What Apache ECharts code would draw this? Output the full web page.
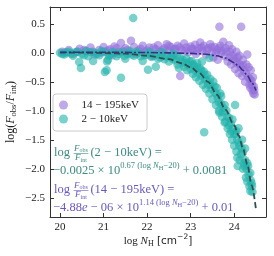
<!DOCTYPE html>
<html><head><meta charset="utf-8">
<script src="https://cdn.jsdelivr.net/npm/echarts@6/dist/echarts.min.js"></script>
<style>html,body{margin:0;padding:0;background:#fff}#c{width:274px;height:256px}</style>
</head><body><div id="c"></div>
<script>
// ---- data ----
const seriesNames = ['14 − 195keV', '2 − 10keV'];
const xTicks = [20, 21, 22, 23, 24];
const yTicks = [-2.5, -2.0, -1.5, -1.0, -0.5, 0.0, 0.5];

const hardPoints = [
[20.05,0.02],[20.2,0.05],[20.3,-0.02],[20.45,0.07],[20.6,0.03],[20.7,0.09],[20.8,-0.03],[20.9,0.05],[21.0,0.1],[21.05,0.02],
[21.15,0.06],[21.2,-0.04],[21.3,0.08],[21.4,0.17],[21.45,0.03],[21.55,0.05],[21.63,0.21],[21.7,0.1],[21.75,-0.02],[21.85,0.07],
[21.9,0.12],[22.0,0.04],[22.05,0.09],[22.1,-0.05],[22.2,0.06],[22.25,0.13],[22.3,0.02],[22.4,0.08],[22.45,0.15],[22.5,0.04],
[22.55,0.1],[22.6,-0.03],[22.65,0.07],[22.7,0.12],[22.76,-0.4],[22.8,0.05],[22.85,0.16],[22.9,0.09],[22.95,0.01],[23.0,0.11],
[23.05,0.06],[23.1,0.14],[23.12,-0.02],[23.18,0.08],[23.22,0.18],[23.27,0.04],[23.3,0.12],[23.35,-0.03],[23.4,0.08],[23.45,0.15],
[23.5,0.02],[23.52,-0.08],[23.55,0.1],[23.6,0.05],[23.62,-0.12],[23.66,0.45],[23.68,0.12],[23.7,0.0],[23.75,0.19],[23.78,-0.06],
[23.8,0.08],[23.85,-0.15],[23.88,0.13],[23.9,0.02],[23.93,-0.2],[23.95,0.06],[24.0,-0.1],[24.02,-0.28],[24.05,0.02],[24.07,-0.18],
[24.1,-0.35],[24.12,-0.05],[24.15,-0.25],[24.16,0.45],[24.18,-0.4],[24.2,-0.12],[24.22,-0.3],[24.25,-0.5],[24.28,-0.2],[24.3,-0.03],
[24.32,-0.42],[24.35,-0.55],[24.37,-0.6],[24.38,-0.3],[24.4,-0.48],[24.42,-0.65],[24.44,-0.7],[24.45,-0.58],[24.47,-0.72],
[20.1,0.0],[20.4,0.02],[20.55,0.05],[20.75,0.02],[20.95,0.0],[21.1,0.04],[21.25,0.11],[21.35,0.02],[21.5,0.08],[21.6,0.0],
[21.8,0.04],[21.95,0.02],[22.15,0.09],[22.35,0.05],[22.5,0.12],[22.62,0.06],[22.75,0.09],[22.88,0.03],[23.02,0.07],[23.15,0.03],
[23.25,0.09],[23.38,0.05],[23.48,0.1],[23.58,0.0],[23.65,0.08],[23.72,0.04],[23.82,0.02],[23.9,-0.08],[23.97,-0.05],[24.03,-0.15],
[24.08,-0.08],[24.13,-0.2],[24.2,-0.22],[24.27,-0.35],[24.33,-0.25],[24.36,-0.45],[24.41,-0.55],[24.43,-0.42],[24.46,-0.64]
];

const softPoints = [
[20.0,0.0],[20.1,-0.03],[20.2,0.02],[20.3,-0.05],[20.35,0.01],[20.44,-0.16],[20.48,-0.26],[20.5,-0.02],[20.6,0.03],[20.65,-0.06],
[20.76,-0.14],[20.8,0.0],[20.9,-0.04],[21.0,0.02],[21.03,-0.33],[21.07,-0.3],[21.08,-0.15],[21.1,-0.12],[21.15,-0.03],[21.2,0.01],
[21.3,-0.06],[21.4,-0.43],[21.42,0.02],[21.5,-0.1],[21.55,-0.02],[21.6,0.03],[21.68,0.6],[21.7,-0.05],[21.8,0.0],[21.9,-0.14],
[21.95,-0.04],[22.02,-0.29],[22.05,0.02],[22.1,-0.07],[22.2,-0.24],[22.22,-0.02],[22.3,-0.08],[22.35,0.01],[22.4,-0.11],[22.45,-0.04],
[22.5,-0.15],[22.55,-0.07],[22.6,-0.01],[22.65,-0.13],[22.7,-0.2],[22.73,-0.26],[22.75,-0.08],[22.8,-0.16],[22.85,-0.24],[22.9,-0.1],
[22.92,-0.3],[22.95,-0.2],[23.0,-0.28],[23.02,-0.14],[23.05,-0.36],[23.08,-0.22],[23.1,-0.3],[23.12,-0.42],[23.15,-0.18],[23.18,-0.35],
[23.2,-0.48],[23.22,-0.27],[23.25,-0.4],[23.26,-0.15],[23.28,-0.55],[23.3,-0.32],[23.31,-1.37],[23.33,-0.46],[23.35,-0.62],[23.38,-0.38],
[23.4,-0.55],[23.43,-0.09],[23.43,-0.7],[23.45,-0.45],[23.48,-0.62],[23.5,-0.8],[23.52,-0.5],[23.55,-0.68],[23.58,-0.9],[23.6,-0.6],
[23.62,-0.78],[23.65,-1.0],[23.66,-1.03],[23.68,-0.7],[23.7,-0.88],[23.72,-1.1],[23.75,-0.95],[23.78,-1.2],[23.8,-1.19],[23.82,-1.0],
[23.85,-1.3],[23.88,-1.12],[23.9,-1.4],[23.92,-1.22],[23.95,-1.5],[23.98,-1.3],[24.0,-1.6],[24.02,-0.9],[24.03,-1.4],[24.05,-1.7],
[24.07,-1.5],[24.07,-1.81],[24.1,-1.3],[24.12,-1.6],[24.15,-1.75],[24.18,-1.5],[24.2,-1.72],[24.22,-1.9],[24.25,-1.65],[24.28,-2.0],
[24.3,-1.9],[24.3,-2.22],[24.33,-2.1],[24.37,-2.07],[24.37,-2.38],[24.4,-2.25],[24.41,-2.3],
[20.05,-0.02],[20.15,0.01],[20.25,-0.01],[20.4,0.02],[20.55,-0.04],[20.7,0.01],[20.85,-0.02],[20.95,0.03],[21.12,-0.05],[21.25,0.0],
[21.35,-0.02],[21.48,-0.05],[21.65,-0.03],[21.75,0.02],[21.85,-0.06],[22.0,-0.03],[22.15,-0.05],[22.25,-0.1],[22.42,-0.06],[22.58,-0.1],
[22.68,-0.05],[22.82,-0.12],[22.88,-0.18],[22.98,-0.15],[23.05,-0.2],[23.15,-0.25],[23.24,-0.3],[23.32,-0.38],[23.38,-0.48],[23.46,-0.55],
[23.55,-0.58],[23.6,-0.72],[23.65,-0.85],[23.7,-0.75],[23.74,-1.02],[23.78,-0.9],[23.84,-1.1],[23.88,-1.25],[23.93,-1.35],[23.96,-1.15],
[24.0,-1.4],[24.05,-1.35],[24.1,-1.55],[24.13,-1.85],[24.17,-1.65],[24.2,-2.0],[24.25,-1.85],[24.27,-2.15],[24.32,-1.95],[24.35,-2.3],
[24.38,-2.2],[24.42,-2.4],[24.24,-1.95],[24.08,-1.95]
];

const softFit = [
[20.0,0.005],[20.5,0.002],[21.0,-0.004],[21.5,-0.015],[22.0,-0.05],[22.5,-0.11],[22.8,-0.18],[23.0,-0.25],[23.2,-0.35],
[23.4,-0.5],[23.6,-0.72],[23.8,-0.98],[24.0,-1.25],[24.1,-1.42],[24.2,-1.64],[24.3,-1.92],[24.4,-2.28],[24.5,-2.7]
];
const hardFit = [
[20.0,0.01],[21.0,0.01],[22.0,0.005],[22.5,0.0],[23.0,-0.01],[23.3,-0.02],[23.6,-0.05],[23.8,-0.09],[24.0,-0.17],
[24.1,-0.23],[24.2,-0.3],[24.3,-0.39],[24.4,-0.51],[24.5,-0.65]
];

// ---- styling ----
const SERIF = 'Liberation Serif';
const SANS = 'DejaVu Sans';
const AX = '#333';
const TEAL_TXT = '#3d8b82';
const PURP_TXT = '#6b58c0';

const ctx = document.createElement('canvas').getContext('2d');
function mw(t, s, it, fam) { ctx.font = (it ? 'italic ' : '') + s + 'px "' + (fam || SERIF) + '"'; return ctx.measureText(t).width; }
function txt(t, x, y, s, it, fam, color) {
  return { type: 'text', silent: true, z: 50, style: { text: t, x: x, y: y, fontSize: s, fontStyle: it ? 'italic' : 'normal', fontFamily: fam || SERIF, fill: color, verticalAlign: 'middle', align: 'left' } };
}
function seq(x0, y0, pieces, color) {
  let x = x0; const els = [];
  for (const p of pieces) {
    if (p.frac) {
      const wn = p.frac[0].reduce((a, q) => a + mw(q.t, q.s, q.i, q.f), 0);
      const wd = p.frac[1].reduce((a, q) => a + mw(q.t, q.s, q.i, q.f), 0);
      const W = Math.max(wn, wd) + 2;
      let xn = x + (W - wn) / 2;
      for (const q of p.frac[0]) { els.push(txt(q.t, xn, y0 - 4.5 + (q.dy || 0), q.s, q.i, q.f, color)); xn += mw(q.t, q.s, q.i, q.f); }
      let xd = x + (W - wd) / 2;
      for (const q of p.frac[1]) { els.push(txt(q.t, xd, y0 + 5 + (q.dy || 0), q.s, q.i, q.f, color)); xd += mw(q.t, q.s, q.i, q.f); }
      els.push({ type: 'line', silent: true, z: 50, shape: { x1: x + 0.5, y1: y0 + 0.5, x2: x + W - 0.5, y2: y0 + 0.5 }, style: { stroke: color, lineWidth: 0.6 } });
      x += W + 1.5;
    } else {
      els.push(txt(p.t, x, y0 + (p.dy || 0), p.s, p.i, p.f, color));
      x += mw(p.t, p.s, p.i, p.f);
    }
  }
  return { els: els, width: x - x0 };
}
const fracFF = { frac: [[{ t: 'F', s: 9, i: true }, { t: 'obs', s: 6, dy: 2 }], [{ t: 'F', s: 9, i: true }, { t: 'int', s: 6, dy: 2 }]] };
const M = 12.5, S = 8.5, SS = 6.5;

const gEls = [];
gEls.push(...seq(54, 153, [{ t: 'log ', s: M }, fracFF, { t: '(2 − 10keV) =', s: M }], TEAL_TXT).els);
gEls.push(...seq(53, 171, [{ t: '−0.0025 × 10', s: M }, { t: '0.67 (log ', s: S, dy: -5.5 }, { t: 'N', s: S, i: true, dy: -5.5 }, { t: 'H', s: SS, dy: -3 }, { t: '−20)', s: S, dy: -5.5 }, { t: ' + 0.0081', s: M }], TEAL_TXT).els);
gEls.push(...seq(54, 190, [{ t: 'log ', s: M }, fracFF, { t: '(14 − 195keV) =', s: M }], PURP_TXT).els);
gEls.push(...seq(53, 208, [{ t: '−4.88', s: M }, { t: 'e', s: M, i: true }, { t: ' − 06 × 10', s: M }, { t: '1.14 (log ', s: S, dy: -5.5 }, { t: 'N', s: S, i: true, dy: -5.5 }, { t: 'H', s: SS, dy: -3 }, { t: '−20)', s: S, dy: -5.5 }, { t: ' + 0.01', s: M }], PURP_TXT).els);

{
  const pcs = [{ t: 'log ', s: 11 }, { t: 'N', s: 11, i: true }, { t: 'H', s: 8, dy: 3 }, { t: ' [cm', s: 10.5, f: SANS }, { t: '−2', s: 7.5, dy: -4, f: SANS }, { t: ']', s: 10.5, f: SANS }];
  const w0 = seq(0, 0, pcs, '#222').width;
  gEls.push(...seq(158 - w0 / 2, 241, pcs, '#222').els);
}
{
  const pcs = [{ t: 'log(', s: 12 }, { t: 'F', s: 12, i: true }, { t: 'obs', s: 8.5, dy: 3 }, { t: '/', s: 12 }, { t: 'F', s: 12, i: true }, { t: 'int', s: 8.5, dy: 3 }, { t: ')', s: 12 }];
  const w0 = seq(0, 0, pcs, '#222').width;
  gEls.push({ type: 'group', x: 11, y: 112, rotation: Math.PI / 2, children: seq(-w0 / 2, 0, pcs, '#222').els });
}

const fmt = v => (Math.abs(v) < 1e-9 ? '0.0' : v.toFixed(1).replace('-', '−'));
const axLine = { show: true, onZero: false, lineStyle: { color: AX, width: 1 } };
const tick = { show: true, inside: true, length: 4, lineStyle: { color: AX, width: 1 } };

const chart = echarts.init(document.getElementById('c'), null, { renderer: 'canvas' });
chart.setOption({
  animation: false,
  backgroundColor: '#fff',
  grid: { left: 50, right: 8, top: 7, bottom: 39, containLabel: false },
  legend: {
    data: seriesNames, orient: 'vertical', left: 53, top: 94,
    icon: 'circle', itemWidth: 26, itemHeight: 9, itemGap: 0,
    padding: [4, 8, 5, 6], borderColor: '#ccc', borderWidth: 1, borderRadius: 3,
    backgroundColor: 'rgba(255,255,255,0.8)',
    textStyle: { fontFamily: SERIF, fontSize: 11, color: '#222', lineHeight: 14 }
  },
  xAxis: [
    { type: 'value', min: 19.77, max: 24.73, position: 'bottom', axisLine: axLine, splitLine: { show: false },
      axisTick: Object.assign({ customValues: xTicks }, tick),
      axisLabel: { customValues: xTicks, fontFamily: SERIF, fontSize: 11, color: '#222', margin: 5, formatter: v => String(Math.round(v)) } },
    { type: 'value', min: 19.77, max: 24.73, position: 'top', axisLine: axLine, splitLine: { show: false },
      axisTick: Object.assign({ customValues: xTicks }, tick), axisLabel: { show: false } }
  ],
  yAxis: [
    { type: 'value', min: -2.83, max: 0.79, position: 'left', axisLine: axLine, splitLine: { show: false },
      axisTick: Object.assign({ customValues: yTicks }, tick),
      axisLabel: { customValues: yTicks, fontFamily: SERIF, fontSize: 11, color: '#222', margin: 5, formatter: fmt } },
    { type: 'value', min: -2.83, max: 0.79, position: 'right', axisLine: axLine, splitLine: { show: false },
      axisTick: Object.assign({ customValues: yTicks }, tick), axisLabel: { show: false } }
  ],
  series: [
    { name: seriesNames[0], type: 'scatter', data: hardPoints, symbolSize: 8.5,
      itemStyle: { color: '#9370DB', opacity: 0.6 }, z: 2 },
    { name: seriesNames[1], type: 'scatter', data: softPoints, symbolSize: 8.5,
      itemStyle: { color: '#20B2AA', opacity: 0.6 }, z: 3 },
    { name: 'fit2', type: 'line', data: softFit, showSymbol: false, symbol: 'none', smooth: 0.3, smoothMonotone: 'x',
      lineStyle: { color: '#2F4F4F', width: 1.8, type: [6, 3] }, z: 5 },
    { name: 'fit14', type: 'line', data: hardFit, showSymbol: false, symbol: 'none', smooth: 0.3, smoothMonotone: 'x',
      lineStyle: { color: '#3b2f80', width: 1.6, type: [7, 2, 2, 2] }, z: 6 }
  ],
  graphic: gEls
});
</script></body></html>
